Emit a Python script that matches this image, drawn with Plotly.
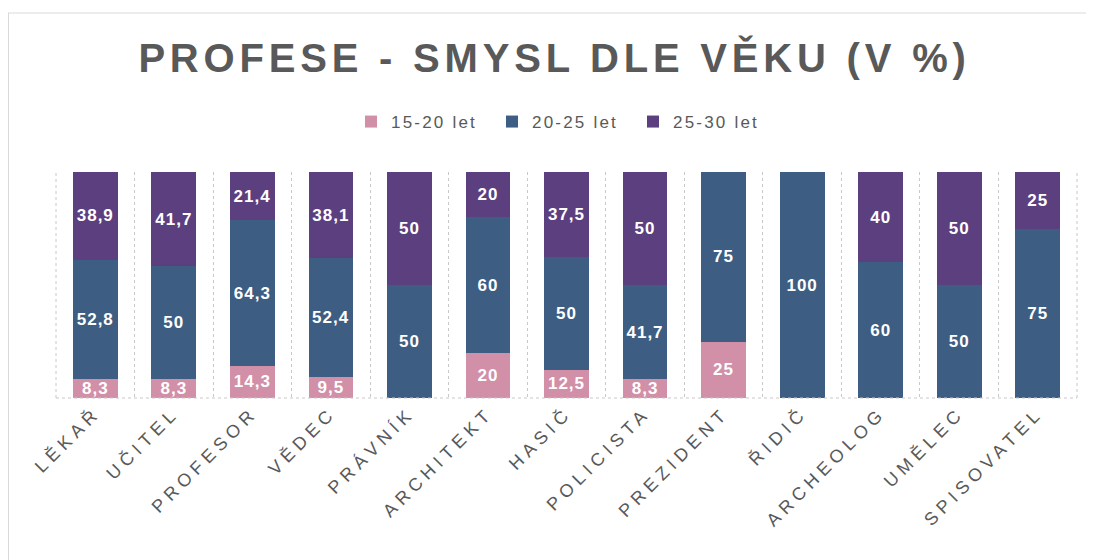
import plotly.graph_objects as go

categories = ["LĚKAŘ", "UČITEL", "PROFESOR", "VĚDEC", "PRÁVNÍK", "ARCHITEKT", "HASIČ",
              "POLICISTA", "PREZIDENT", "ŘIDIČ", "ARCHEOLOG", "UMĚLEC", "SPISOVATEL"]
age_15_20 = [8.3, 8.3, 14.3, 9.5, 0, 20, 12.5, 8.3, 25, 0, 0, 0, 0]
age_20_25 = [52.8, 50, 64.3, 52.4, 50, 60, 50, 41.7, 75, 100, 60, 50, 75]
age_25_30 = [38.9, 41.7, 21.4, 38.1, 50, 20, 37.5, 50, 0, 0, 40, 50, 25]
series_names = ["15-20 let", "20-25 let", "25-30 let"]
colors = ["#D28FA8", "#3D5E82", "#5C3F7F"]

W, H = 1094, 560
OFF = 8  # page body margin
# target pixel positions in the screenshot
PLOT_L, PLOT_R, PLOT_T, PLOT_B = 56, 1077, 172, 398
ML = PLOT_L - OFF
MR = W - (PLOT_R - OFF)
MT = PLOT_T - OFF
MB = H - (PLOT_B - OFF)
FONT = "Liberation Sans, Arial"


def fmt(v):
    if v == 0:
        return ""
    return ("%g" % v).replace(".", ",")


fig = go.Figure()
for name, vals, col in zip(series_names, [age_15_20, age_20_25, age_25_30], colors):
    fig.add_trace(go.Bar(
        x=categories, y=vals, name=name,
        marker=dict(color=col, line=dict(width=0)),
        text=[fmt(v) for v in vals],
        textposition="inside", insidetextanchor="middle",
        textangle=0, constraintext="none",
        textfont=dict(family=FONT, size=17, color="white", weight="bold"),
        cliponaxis=False,
    ))

pw = W - ML - MR
ph = H - MT - MB


def px_x(px):
    return (px - OFF - ML) / pw


def px_y(py):
    return (H - MB - (py - OFF)) / ph


grid = dict(color="#C8C8C8", width=1, dash="dot")

fig.update_layout(
    width=W, height=H,
    barmode="stack", bargap=0.43,
    plot_bgcolor="white", paper_bgcolor="white",
    margin=dict(l=ML, r=MR, t=MT, b=MB),
    title=dict(
        text="<b>PROFESE - SMYSL DLE VĚKU (V %)</b>",
        x=0.5 - 12 / pw, xref="paper", xanchor="center",
        y=1 - (58 - OFF) / H, yanchor="middle",
        font=dict(family=FONT, size=40, color="#595959"),
    ),
    legend=dict(
        orientation="h", x=px_x(351), xanchor="left", xref="paper",
        y=px_y(122), yanchor="middle",
        font=dict(family=FONT, size=17, color="#595959"),
        entrywidth=96, entrywidthmode="pixels", traceorder="normal",
        itemwidth=30,
    ),
    xaxis=dict(
        tickangle=-45,
        tickfont=dict(family=FONT, size=18, color="#595959"),
        showgrid=True, gridcolor="#C8C8C8", griddash="dot", gridwidth=1,
        tickson="boundaries", ticks="",
        showline=False, zeroline=False,
    ),
    yaxis=dict(range=[0, 100], visible=False, showgrid=False, zeroline=False),
    shapes=[
        dict(type="line", xref="paper", yref="paper",
             x0=px_x(8), x1=px_x(1100), y0=px_y(13), y1=px_y(13),
             line=dict(color="#D9D9D9", width=1)),
        dict(type="line", xref="paper", yref="paper",
             x0=px_x(8.5), x1=px_x(8.5), y0=px_y(13), y1=px_y(570),
             line=dict(color="#D9D9D9", width=1)),
        dict(type="line", xref="paper", yref="paper",
             x0=0, x1=0, y0=0, y1=1, line=grid),
        dict(type="line", xref="paper", yref="paper",
             x0=1, x1=1, y0=0, y1=1, line=grid),
        dict(type="line", xref="paper", yref="paper",
             x0=0, x1=1, y0=0, y1=0, line=grid),
    ],
)

post = """
var gd = document.getElementById('{plot_id}');
function sp(){
  gd.querySelectorAll('.gtitle').forEach(function(e){e.style.letterSpacing='4.8px';});
  gd.querySelectorAll('.xtick text').forEach(function(e){e.style.letterSpacing='5px';});
  gd.querySelectorAll('.legendtext').forEach(function(e){e.style.letterSpacing='2.2px';});
  gd.querySelectorAll('text.bartext').forEach(function(e){e.style.letterSpacing='1px';});
}
sp();
gd.on('plotly_afterplot', sp);
"""

fig.write_html("out.html", post_script=post)
